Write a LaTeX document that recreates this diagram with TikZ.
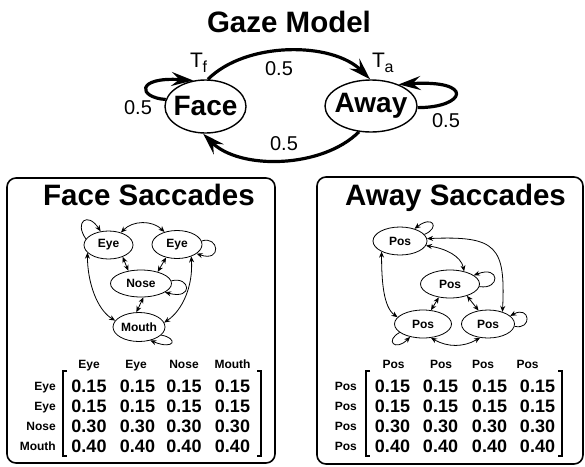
\documentclass[tikz,border=0pt]{standalone}
\usepackage{fontspec}
\setmainfont{Liberation Sans}
\usetikzlibrary{shapes.geometric,arrows.meta}
\newcommand{\nowidth}[1]{\makebox[0pt]{#1}}
\begin{document}
\begin{tikzpicture}[x=1pt,y=1pt,
  bigstate/.style={ellipse, draw, line width=1.4pt, inner sep=0pt, font=\fontsize{28}{30}\selectfont\bfseries},
  smallstate/.style={ellipse, draw, line width=0.8pt, inner sep=0pt, minimum height=28pt, font=\fontsize{12}{14}\selectfont\bfseries},
  gazearrow/.style={line width=3.2pt, arrows={-Stealth[length=22pt,width=14pt,inset=8pt]}},
  prob/.style={font=\fontsize{20}{22}\selectfont, inner sep=0pt},
  tlbl/.style={font=\fontsize{21}{22}\selectfont, inner sep=0pt, anchor=base west},
  sarrow/.style={line width=0.8pt, arrows={-Stealth[length=6pt,width=5pt]}},
  sboth/.style={line width=0.8pt, arrows={Stealth[length=6pt,width=5pt]-Stealth[length=6pt,width=5pt]}},
  panel/.style={draw, line width=1.6pt, rounded corners=9pt},
  heading/.style={font=\fontsize{29.5}{32}\selectfont\bfseries, inner sep=0pt, anchor=base},
  hdr/.style={font=\fontsize{12}{14}\selectfont\bfseries, inner sep=0pt, anchor=base},
  rowlbl/.style={font=\fontsize{12}{14}\selectfont\bfseries, inner sep=0pt, anchor=base east},
  val/.style={font=\fontsize{18}{20}\selectfont\bfseries, inner sep=0pt, anchor=base},
  bracket/.style={line width=1.6pt},
]
\useasboundingbox (0,0) rectangle (585,-466);

% ---------------- Gaze model ----------------
\node[heading] (gaze) at (289,-32) {Gaze Model};
\node[bigstate, minimum width=81pt, minimum height=53pt] (face) at (205.5,-106.5) {\nowidth{Face}};
\node[bigstate, minimum width=92pt, minimum height=52pt] (away) at (371,-106) {\nowidth{Away}};

\draw[gazearrow] (face.85) to[out=45,in=135,looseness=0.85] (away.92);
\draw[gazearrow] (away.-115) to[out=-135,in=-45,looseness=0.85] (face.-95);
\draw[gazearrow] (face.170) .. controls +(-28,2) and +(-58,4) .. (face.115);
\draw[gazearrow] (away.-2) .. controls +(48,0) and +(77,5) .. (away.38);

\node[prob] (pff) at (138,-107.5) {0.5};
\node[prob] (pfa) at (279,-69) {0.5};
\node[prob] (paf) at (284,-143.5) {0.5};
\node[prob] (paa) at (446,-120.5) {0.5};
\node[tlbl] (tf) at (190,-67) {T\kern-0.5pt\raisebox{-5pt}{\fontsize{16}{16}\selectfont f}};
\node[tlbl] (ta) at (372,-67) {T\kern-0.5pt\raisebox{-5pt}{\fontsize{16}{16}\selectfont a}};

% ---------------- Face saccades panel ----------------
\draw[panel] (7,-178) rectangle (275,-463);
\node[heading] (facetitle) at (149,-205) {Face Saccades};

\node[smallstate, minimum width=49pt] (e1) at (108.5,-245) {\nowidth{Eye}};
\node[smallstate, minimum width=50pt] (e2) at (177,-244.5) {\nowidth{Eye}};
\node[smallstate, minimum width=61pt, minimum height=27pt] (n) at (141,-283.5) {\nowidth{Nose}};
\node[smallstate, minimum width=52pt, minimum height=29pt] (m) at (139,-327) {\nowidth{Mouth}};

\draw[sboth] (e1.45) to[bend left=45] (e2.135);
\draw[sarrow] (e1.165) .. controls +(-12,17) and +(-13,20) .. (e1.120);
\draw[sarrow] (e2.8) .. controls +(17,6) and +(26,-9) .. (e2.-25);
\draw[sboth] (e1.-40) -- (n.135);
\draw[sboth] (e2.-130) -- (n.35);
\draw[sarrow] (n.5) .. controls +(19,5) and +(29,-8) .. (n.-20);
\draw[sboth] (n.-80) -- (m.100);
\draw[sboth] (e1.200) .. controls +(0,-30) and +(-18,11) .. (m.165);
\draw[sboth] (e2.-40) .. controls +(2,-30) and +(18,12) .. (m.10);
\draw[sarrow] (m.-20) .. controls +(17,-3) and +(25,-10) .. (m.-50);

% transition matrix
\node[hdr] (fh1) at (89,-368.5) {Eye};
\node[hdr] (fh2) at (136,-368.5) {Eye};
\node[hdr] (fh3) at (184,-368.5) {Nose};
\node[hdr] (fh4) at (232.5,-368.5) {Mouth};
\foreach \t [count=\r] in {Eye,Eye,Nose,Mouth}
  \node[rowlbl] (fr\r) at (56,{-370.5-20*\r}) {\t};
\foreach \v [count=\r] in {0.15,0.15,0.30,0.40} {
  \foreach \cx [count=\c] in {89,137.5,184,232.5}
    \node[val] (fv\r\c) at (\cx,{-372-20*\r}) {\v};
}
\draw[bracket] (67,-371) -- (63,-371) -- (63,-456) -- (67,-456);
\draw[bracket] (257,-371) -- (261,-371) -- (261,-456) -- (257,-456);

% ---------------- Away saccades panel ----------------
\draw[panel] (317,-177) rectangle (583,-464);
\node[heading] (awaytitle) at (455.5,-205) {Away Saccades};

\node[smallstate, minimum width=54pt] (pa) at (400,-241) {\nowidth{Pos}};
\node[smallstate, minimum width=59pt] (pb) at (450,-284) {\nowidth{Pos}};
\node[smallstate, minimum width=57pt] (pc) at (423,-324) {\nowidth{Pos}};
\node[smallstate, minimum width=53pt] (pd) at (488,-324) {\nowidth{Pos}};

\draw[sarrow] (pa.15) .. controls +(16,7) and +(18,14) .. (pa.40);
\draw[sboth] (pa.5) .. controls +(70,3) and +(3,65) .. (pd.40);
\draw[sboth] (pa.-10) .. controls +(20,-3) and +(-3,15) .. (pb.42);
\draw[sboth] (pa.210) .. controls +(0,-30) and +(-14,10) .. (pc.165);
\draw[sarrow] (pb.-5) .. controls +(21,-3.5) and +(26.6,10.5) .. (pb.20);
\draw[sboth] (pb.-130) -- (pc.60);
\draw[sboth] (pb.-35) -- (pd.125);
\draw[sarrow] (pc.200) .. controls +(-15,-8) and +(-15,-15) .. (pc.225);
\draw[sboth] (pc.-60) to[bend right=30] (pd.-120);
\draw[sarrow] (pd.-5) .. controls +(18,-4) and +(20,11) .. (pd.20);

% transition matrix
\node[hdr] (ah1) at (393.5,-368.5) {Pos};
\node[hdr] (ah2) at (441,-368.5) {Pos};
\node[hdr] (ah3) at (483,-368.5) {Pos};
\node[hdr] (ah4) at (527.5,-368.5) {Pos};
\foreach \r in {1,2,3,4}
  \node[rowlbl] (ar\r) at (357,{-370.5-20*\r}) {Pos};
\foreach \v [count=\r] in {0.15,0.15,0.30,0.40} {
  \foreach \cx [count=\c] in {392.5,440.5,489.5,537.5}
    \node[val] (av\r\c) at (\cx,{-372-20*\r}) {\v};
}
\draw[bracket] (370,-371) -- (366,-371) -- (366,-456) -- (370,-456);
\draw[bracket] (558,-371) -- (562,-371) -- (562,-456) -- (558,-456);
\end{tikzpicture}
\end{document}
